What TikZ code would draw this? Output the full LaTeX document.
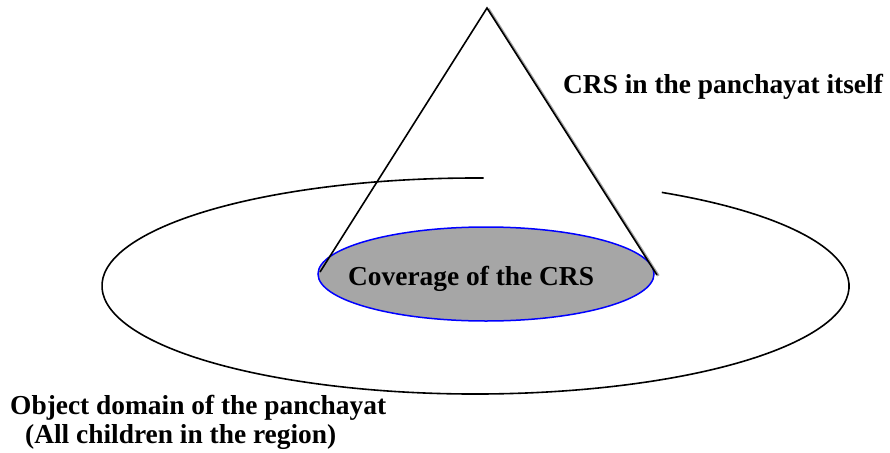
\documentclass[tikz,border=0pt]{standalone}
\usepackage{fontspec}
\setmainfont{Liberation Serif}
\begin{document}
\begin{tikzpicture}[x=1pt,y=-1pt,
  outline/.style={line width=1.6pt,black},
  coverage/.style={line width=1.5pt,draw=blue,fill=covergray},
  label/.style={anchor=base west,inner sep=0pt,font=\fontsize{27.4}{30}\selectfont\bfseries},
  shadowline/.style={line width=2.4pt,black!35}]
\definecolor{covergray}{HTML}{A6A6A6}
\useasboundingbox (0,0) rectangle (890,452);
% outer domain ellipse, open at the top where the cone passes
\coordinate (dom) at (475.5,286);
\draw[outline] (dom) ++(-60.08:373.5 and 108)
  arc[start angle=-60.08,end angle=271.23,x radius=373.5,y radius=108];
% coverage ellipse at the base of the cone
\coordinate (cov) at (486,274);
\path[coverage] (cov) ellipse[x radius=168,y radius=47];
% cone
\coordinate (apex) at (487,8);
\coordinate (bl) at (320,272);
\coordinate (br) at (657,275);
\draw[shadowline] ([xshift=1.5pt,yshift=-0.8pt]apex) -- ([xshift=1.5pt,yshift=-0.8pt]br);
\draw[outline] (bl) -- (apex) -- (br);
% labels
\node[label] (crs) at (563,93) {CRS in the panchayat itself};
\node[label] (cover) at (348,285) {Coverage of the CRS};
\node[label] (obj) at (10,414) {Object domain of the panchayat};
\node[label] (all) at (25,443) {(All children in the region)};
\end{tikzpicture}
\end{document}
